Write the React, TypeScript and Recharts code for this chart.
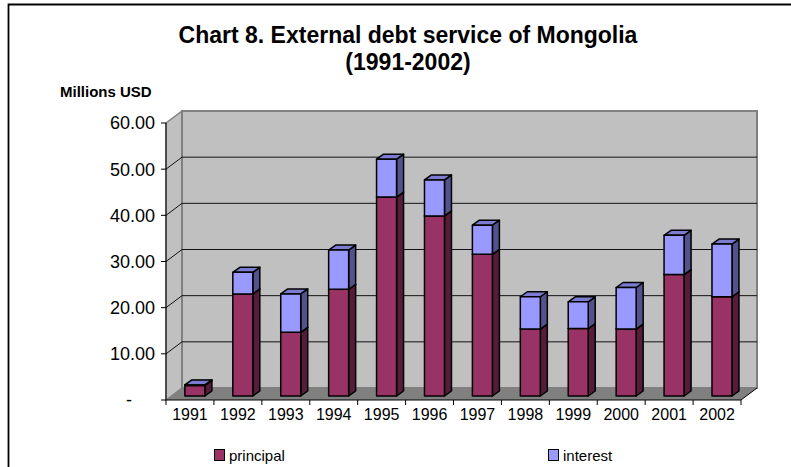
import { BarChart, Bar, XAxis, YAxis, CartesianGrid, Legend } from "recharts"

// Servicio de la deuda externa, millones USD
const years = ["1991", "1992", "1993", "1994", "1995", "1996", "1997", "1998", "1999", "2000", "2001", "2002"]
const principal = [2.3, 22.1, 13.8, 23.1, 43.1, 39.0, 30.7, 14.5, 14.6, 14.5, 26.3, 21.5]
const interest = [0.1, 4.7, 8.3, 8.5, 8.2, 7.8, 6.3, 7.0, 5.8, 9.0, 8.5, 11.4]
const yTicks = [0, 10, 20, 30, 40, 50, 60]
const seriesNames = ["principal", "interest"]

const data = years.map((year, i) => ({ year, principal: principal[i], interest: interest[i] }))

const FONT = "'Liberation Sans', Arial, sans-serif"
const W = 791
const H = 467

// profundidad de la "caja" 3D
const WALL_DX = 16
const WALL_DY = -12
const BAR_SHIFT_X = 5
const BAR_SHIFT_Y = -4
const BAR_DX = 7
const BAR_DY = -5

const colors = {
  principal: { front: "#993366", side: "#561d3a", top: "#7a2952" },
  interest: { front: "#9999ff", side: "#52528c", top: "#7b7bd0" },
}

function Box3D(props: any) {
  const { x, y, width, height, front, side, top } = props
  if (x == null || y == null || !width) return null
  const x0 = x + BAR_SHIFT_X
  const y0 = y + BAR_SHIFT_Y
  const h = Math.max(height, 0)
  const xr = x0 + width
  return (
    <g stroke="#000" strokeWidth={1.5} strokeLinejoin="round">
      <polygon
        points={`${xr},${y0} ${xr + BAR_DX},${y0 + BAR_DY} ${xr + BAR_DX},${y0 + h + BAR_DY} ${xr},${y0 + h}`}
        fill={side}
      />
      <polygon
        points={`${x0},${y0} ${x0 + BAR_DX},${y0 + BAR_DY} ${xr + BAR_DX},${y0 + BAR_DY} ${xr},${y0}`}
        fill={top}
      />
      <rect x={x0} y={y0} width={width} height={h} fill={front} />
    </g>
  )
}

// Paredes + líneas de la grilla, dibujadas desde las posiciones que da CartesianGrid
function gridLine(props: any) {
  const { x1, x2, y1, index } = props
  const top = props.y ?? 123
  const bottom = top + (props.height ?? 277)
  const inner = y1 > top + 1 && y1 < bottom - 1
  return (
    <g key={`grid-${index}`}>
      {index === 0 && (
        <g>
          <polygon
            points={`${x1},${bottom} ${x1 + WALL_DX},${bottom + WALL_DY} ${x1 + WALL_DX},${top + WALL_DY} ${x1},${top}`}
            fill="#c0c0c0"
            stroke="#808080"
            strokeWidth={1.5}
          />
          <rect
            x={x1 + WALL_DX}
            y={top + WALL_DY}
            width={x2 - x1}
            height={bottom - top}
            fill="#c0c0c0"
            stroke="#808080"
            strokeWidth={2}
          />
          <polygon
            points={`${x1},${bottom} ${x2},${bottom} ${x2 + WALL_DX},${bottom + WALL_DY} ${x1 + WALL_DX},${bottom + WALL_DY}`}
            fill="#808080"
          />
          <line x1={x2} y1={bottom} x2={x2 + WALL_DX} y2={bottom + WALL_DY} stroke="#000" strokeWidth={1} />
        </g>
      )}
      {inner && (
        <g stroke="#111" strokeWidth={1}>
          <line x1={x1 + WALL_DX} y1={y1 + WALL_DY} x2={x2 + WALL_DX} y2={y1 + WALL_DY} />
          <line x1={x1} y1={y1} x2={x1 + WALL_DX} y2={y1 + WALL_DY} />
        </g>
      )}
    </g>
  )
}

function YTick(props: any) {
  const { x, y, payload } = props
  const v = payload.value as number
  return (
    <text
      x={v === 0 ? x - 23 : x}
      y={y}
      dy="0.36em"
      textAnchor="end"
      fontFamily={FONT}
      fontSize={18}
      fill="#000"
    >
      {v === 0 ? "-" : v.toFixed(2)}
    </text>
  )
}

function XTick(props: any) {
  const { x, y, payload, index } = props
  const half = payload.offset || 24
  const axisY = y - 7
  return (
    <g>
      <line x1={x - half} y1={axisY} x2={x - half} y2={axisY + 5} stroke="#000" />
      {index === years.length - 1 && (
        <line x1={x + half} y1={axisY} x2={x + half} y2={axisY + 5} stroke="#000" />
      )}
      <text x={x} y={y + 13} textAnchor="middle" fontFamily={FONT} fontSize={16} fill="#000">
        {payload.value}
      </text>
    </g>
  )
}

const legendX: Record<string, number> = { principal: 214, interest: 548 }

function LegendContent({ payload }: any) {
  const items = [...(payload || [])].sort(
    (a: any, b: any) => seriesNames.indexOf(a.value) - seriesNames.indexOf(b.value)
  )
  return (
    <div style={{ position: "relative", height: 24, fontFamily: FONT, fontSize: 15, color: "#000" }}>
      {items.map((p: any) => (
        <div
          key={p.value}
          style={{
            position: "absolute",
            left: legendX[p.value] ?? 0,
            top: 0,
            display: "flex",
            alignItems: "center",
            height: 24,
          }}
        >
          <span
            style={{
              width: 11,
              height: 12,
              background: p.color,
              border: "1.5px solid #000",
              boxSizing: "border-box",
              marginRight: 4,
            }}
          />
          <span>{p.value}</span>
        </div>
      ))}
    </div>
  )
}

export default function App() {
  return (
    <div style={{ position: "absolute", left: 0, top: 0, width: W, height: H, background: "#fff", overflow: "hidden" }}>
      <svg width={W} height={H} style={{ position: "absolute", left: 0, top: 0 }}>
        <path d={`M8.5,${H} L8.5,4.5 L${W},4.5`} fill="none" stroke="#000" strokeWidth={1.8} />
        <text x={408} y={43} textAnchor="middle" fontFamily={FONT} fontWeight="bold" fontSize={23}>
          Chart 8. External debt service of Mongolia
        </text>
        <text x={408} y={70} textAnchor="middle" fontFamily={FONT} fontWeight="bold" fontSize={23}>
          (1991-2002)
        </text>
        <text x={60} y={97} fontFamily={FONT} fontWeight="bold" fontSize={15}>
          Millions USD
        </text>
      </svg>
      <div style={{ position: "absolute", left: 0, top: 0 }}>
        <BarChart
          width={W}
          height={H}
          data={data}
          margin={{ top: 123, right: 50, bottom: 37, left: 66 }}
          barCategoryGap="29%"
        >
          <CartesianGrid vertical={false} horizontal={gridLine} />
          <XAxis
            dataKey="year"
            interval={0}
            height={30}
            tickSize={5}
            tickMargin={2}
            tickLine={false}
            axisLine={{ stroke: "#000", strokeWidth: 1 }}
            tick={<XTick />}
          />
          <YAxis
            type="number"
            domain={[0, 60]}
            ticks={yTicks}
            interval={0}
            width={100}
            tickSize={5}
            tickMargin={6}
            tickLine={{ stroke: "#000" }}
            axisLine={{ stroke: "#000", strokeWidth: 1 }}
            tick={<YTick />}
          />
          <Legend
            layout="horizontal"
            verticalAlign="middle"
            align="center"
            wrapperStyle={{ top: 443, left: 0, width: W }}
            content={<LegendContent />}
          />
          <Bar
            dataKey="principal"
            name="principal"
            stackId="debt"
            fill={colors.principal.front}
            isAnimationActive={false}
            shape={(p: any) => <Box3D {...p} {...colors.principal} />}
          />
          <Bar
            dataKey="interest"
            name="interest"
            stackId="debt"
            fill={colors.interest.front}
            isAnimationActive={false}
            shape={(p: any) => <Box3D {...p} {...colors.interest} />}
          />
        </BarChart>
      </div>
    </div>
  )
}
